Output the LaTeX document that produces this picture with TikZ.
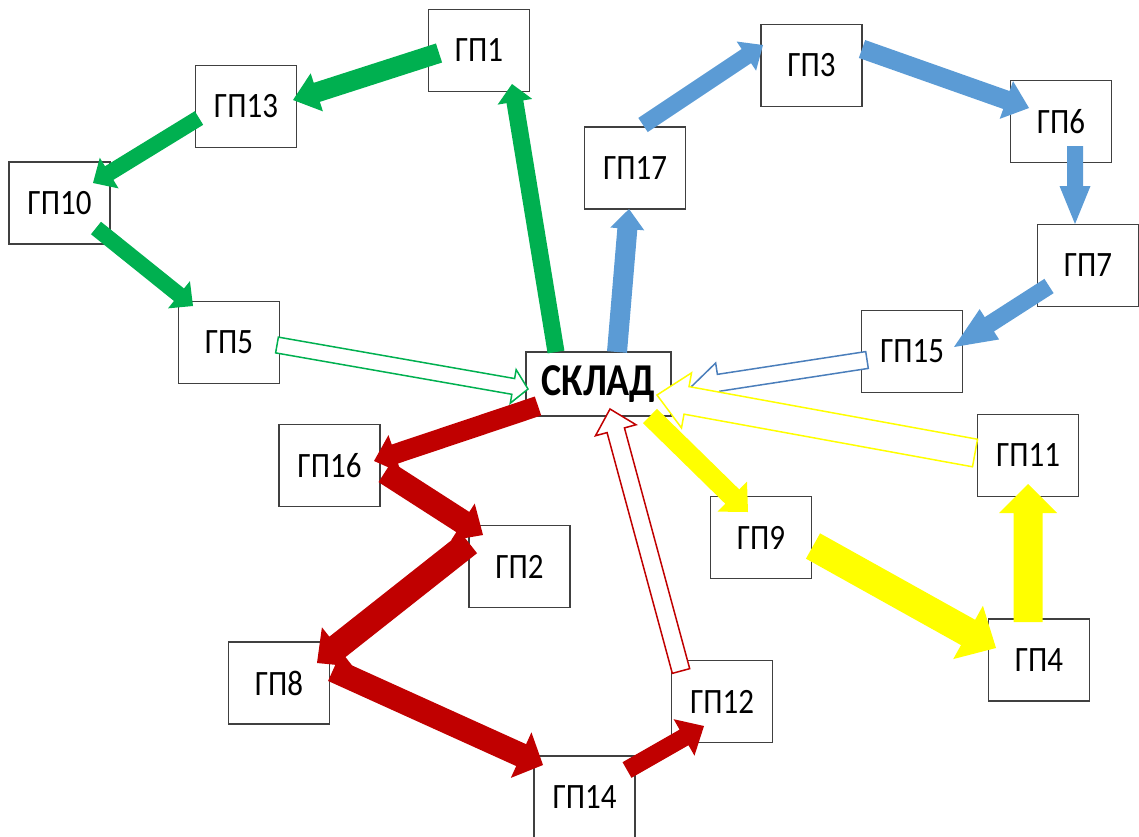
\documentclass[tikz,border=0pt]{standalone}
\usepackage{fontspec}
\setmainfont{Carlito}
\usepackage{graphicx}
\usetikzlibrary{calc}
\definecolor{cgreen}{HTML}{00B050}
\definecolor{cblue}{HTML}{5B9BD5}
\definecolor{cblueline}{HTML}{4A7EBB}
\definecolor{cyellow}{HTML}{FFFF00}
\definecolor{cred}{HTML}{C00000}
\definecolor{cbox}{HTML}{404040}
% #1 style, #2 from, #3 to, #4 shaft width, #5 head width, #6 head length
\newcommand\blockarr[6]{%
 \path[#1] let \p1=(#2), \p2=(#3), \n1={atan2(\y2-\y1,\x2-\x1)}, \n2={#4/2}, \n3={#5/2}, \n4={#6} in
 ($(\p1)+(\n1+90:\n2pt)$) -- ($(\p2)+(\n1+180:\n4pt)+(\n1+90:\n2pt)$) --
 ($(\p2)+(\n1+180:\n4pt)+(\n1+90:\n3pt)$) -- (\p2) --
 ($(\p2)+(\n1+180:\n4pt)+(\n1-90:\n3pt)$) -- ($(\p2)+(\n1+180:\n4pt)+(\n1-90:\n2pt)$) --
 ($(\p1)+(\n1-90:\n2pt)$) -- cycle;}
\newcommand\gp[1]{\scalebox{1}[1.15]{#1}}
\tikzset{
 box/.style={draw=cbox, line width=1.2pt, fill=white, minimum width=101pt, minimum height=82pt,
   inner sep=0pt, font=\fontsize{31}{36}\selectfont},
 filled/.style={fill=#1, draw=none},
 hollow/.style={fill=white, draw=#1, line width=1.5pt, line join=miter}
}
\begin{document}
\begin{tikzpicture}[x=1pt,y=-1pt]
\useasboundingbox (0,0) rectangle (1139,836);
\clip (0,0) rectangle (1139,836);
% boxes
\node[box] (g1)  at (479,50.5)   {\gp{ГП1}};
\node[box] (g13) at (246,106.5)  {\gp{ГП13}};
\node[box] (g10) at (59.5,203)   {\gp{ГП10}};
\node[box] (g5)  at (229,342.5)  {\gp{ГП5}};
\node[box] (g17) at (635,168)    {\gp{ГП17}};
\node[box] (g3)  at (811.5,65.5) {\gp{ГП3}};
\node[box] (g6)  at (1061,121.5) {\gp{ГП6}};
\node[box] (g7)  at (1088,265.5) {\gp{ГП7}};
\node[box] (g15) at (912,351.5)  {\gp{ГП15}};
\node[box, minimum width=145pt, minimum height=64pt, font=\fontsize{38}{44}\selectfont\bfseries] (sk) at (598.5,384) {\scalebox{1}[1.2]{СКЛАД}};
\node[box] (g11) at (1028,455.5) {\gp{ГП11}};
\node[box] (g9)  at (761,537.5)  {\gp{ГП9}};
\node[box] (g4)  at (1039,660)   {\gp{ГП4}};
\node[box] (g16) at (329.5,465.5){\gp{ГП16}};
\node[box] (g2)  at (519.5,566.5){\gp{ГП2}};
\node[box] (g8)  at (279,683)    {\gp{ГП8}};
\node[box] (g14) at (584.5,797)  {\gp{ГП14}};
\node[box] (g12) at (722,701.5)  {\gp{ГП12}};
% arrow end points
\coordinate (a1s) at (556,352);  \coordinate (a1e) at (512,84);
\coordinate (a2s) at (439,53);   \coordinate (a2e) at (293,100);
\coordinate (a3s) at (199,118);  \coordinate (a3e) at (93,183);
\coordinate (a4s) at (96,228);   \coordinate (a4e) at (193,306);
\coordinate (a5s) at (277,345);  \coordinate (a5e) at (528,389);
\coordinate (a6s) at (617,352);  \coordinate (a6e) at (629,209);
\coordinate (a7s) at (643,125);  \coordinate (a7e) at (763,45);
\coordinate (a8s) at (862,49);   \coordinate (a8e) at (1029,108);
\coordinate (a9s) at (1075,146); \coordinate (a9e) at (1075,224);
\coordinate (a10s) at (1049,286); \coordinate (a10e) at (954,347);
\coordinate (a11s) at (867,360); \coordinate (a11e) at (691,387);
\coordinate (a12s) at (650,416); \coordinate (a12e) at (748,512);
\coordinate (a13s) at (813,546); \coordinate (a13e) at (996,648);
\coordinate (a14s) at (1028,622); \coordinate (a14e) at (1028,484);
\coordinate (a15s) at (975,453); \coordinate (a15e) at (657,395);
\coordinate (a16s) at (538,406); \coordinate (a16e) at (374,461);
\coordinate (a17s) at (385,472); \coordinate (a17e) at (483,535);
\coordinate (a18s) at (469,543); \coordinate (a18e) at (317,663);
\coordinate (a19s) at (333,670); \coordinate (a19e) at (543,765);
\coordinate (a20s) at (627,770); \coordinate (a20e) at (704,726);
\coordinate (a21s) at (681,671); \coordinate (a21e) at (610,409);
% hollow arrows (returns to the warehouse)
\blockarr{hollow=cgreen}{a5s}{a5e}{16}{34}{15}
\blockarr{hollow=cblueline}{a11s}{a11e}{17}{40}{28}
\blockarr{hollow=cyellow}{a15s}{a15e}{28}{56}{30}
\blockarr{hollow=cred}{a21s}{a21e}{18}{42}{22}
% green route
\blockarr{filled=cgreen}{a1s}{a1e}{17}{35}{18}
\blockarr{filled=cgreen}{a2s}{a2e}{20}{40}{25}
\blockarr{filled=cgreen}{a3s}{a3e}{16}{36}{19}
\blockarr{filled=cgreen}{a4s}{a4e}{16}{35}{18}
% blue route
\blockarr{filled=cblue}{a6s}{a6e}{20}{34}{20}
\blockarr{filled=cblue}{a7s}{a7e}{17}{35}{20}
\blockarr{filled=cblue}{a8s}{a8e}{19}{40}{24}
\blockarr{filled=cblue}{a9s}{a9e}{16}{31}{38}
\blockarr{filled=cblue}{a10s}{a10e}{17}{36}{42}
% yellow route
\blockarr{filled=cyellow}{a12s}{a12e}{20}{42}{22}
\blockarr{filled=cyellow}{a13s}{a13e}{29}{61}{32}
\blockarr{filled=cyellow}{a14s}{a14e}{29}{58}{29}
% red route
\blockarr{filled=cred}{a16s}{a16e}{20}{40}{22}
\blockarr{filled=cred}{a17s}{a17e}{24}{44}{24}
\blockarr{filled=cred}{a18s}{a18e}{26}{50}{26}
\blockarr{filled=cred}{a19s}{a19e}{24}{50}{24}
\blockarr{filled=cred}{a20s}{a20e}{18}{42}{23}
\end{tikzpicture}
\end{document}
